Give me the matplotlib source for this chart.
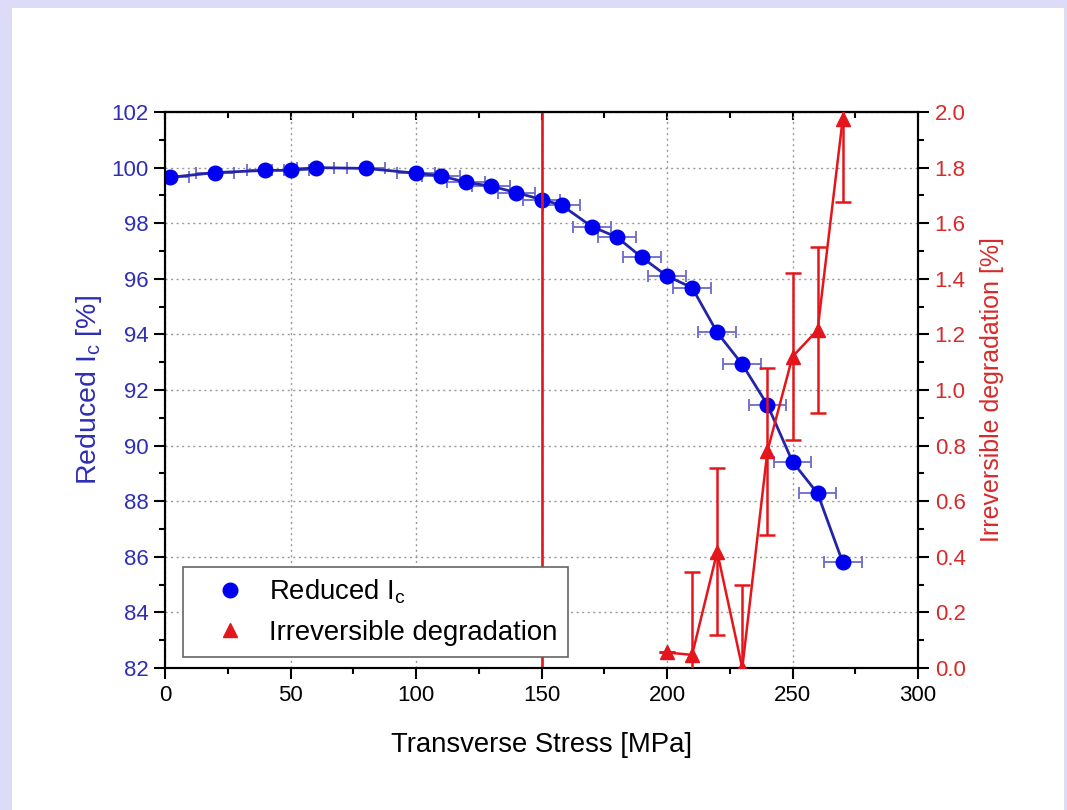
import matplotlib
matplotlib.use("Agg")
import matplotlib.pyplot as plt
from matplotlib.lines import Line2D
from matplotlib.patches import Rectangle
from matplotlib.ticker import MultipleLocator, FormatStrFormatter

plt.rcParams['font.family'] = ['Liberation Sans', 'DejaVu Sans']
plt.rcParams['mathtext.fontset'] = 'custom'
plt.rcParams['mathtext.rm'] = 'Liberation Sans'
plt.rcParams['mathtext.it'] = 'Liberation Sans'

# ---- data ----
stress_ic = [2, 20, 40, 50, 60, 80, 100, 110, 120, 130, 140, 150, 158, 170, 180,
             190, 200, 210, 220, 230, 240, 250, 260, 270]
reduced_ic = [99.65, 99.82, 99.9, 99.9, 100.0, 99.97, 99.8, 99.7, 99.47, 99.33,
              99.1, 98.85, 98.65, 97.88, 97.5, 96.77, 96.1, 95.68, 94.07, 92.92,
              91.47, 89.42, 88.28, 85.8]
stress_err = 7.5

stress_deg = [200, 210, 220, 230, 240, 250, 260, 270]
irrev_deg = [0.056, 0.047, 0.418, 0.0, 0.78, 1.12, 1.216, 1.975]
deg_err = [0.0, 0.3, 0.3, 0.3, 0.3, 0.3, 0.3, 0.3]

limit_stress = 150

x_ticks = [0, 50, 100, 150, 200, 250, 300]
left_ticks = [82, 84, 86, 88, 90, 92, 94, 96, 98, 100, 102]
right_ticks = [0.0, 0.2, 0.4, 0.6, 0.8, 1.0, 1.2, 1.4, 1.6, 1.8, 2.0]

BLUE = '#0000F0'
BLUE_LINE = '#2424A8'
BLUE_ERR = '#6A6ACC'
BLUE_TXT = '#2E2EB4'
RED = '#E4161C'
RED_TXT = '#D82A2A'

W, H = 1067, 810
fig = plt.figure(figsize=(W / 100, H / 100), dpi=100, facecolor='#DCDCF8')
fig.patches.append(Rectangle((12 / W, 0), (1064 - 12) / W, 1 - 8 / H,
                             transform=fig.transFigure, facecolor='white',
                             edgecolor='none', zorder=-10))

ax = fig.add_axes([165 / W, 1 - 668 / H, (918 - 165) / W, (668 - 112) / H])
ax.set_facecolor('white')

# blue series
ax.errorbar(stress_ic, reduced_ic, xerr=stress_err, fmt='none', ecolor=BLUE_ERR,
            elinewidth=1.3, capsize=4, capthick=1.3, zorder=3)
ax.plot(stress_ic, reduced_ic, '-', color=BLUE_LINE, lw=2.0, zorder=4)
ax.plot(stress_ic, reduced_ic, 'o', color=BLUE, ms=10.5, mec=BLUE, zorder=5)

ax.set_xlim(0, 300)
ax.set_ylim(82, 102)
ax.set_xticks(x_ticks)
ax.set_yticks(left_ticks)
ax.xaxis.set_minor_locator(MultipleLocator(25))
ax.yaxis.set_minor_locator(MultipleLocator(1))
ax.tick_params(axis='both', which='major', direction='out', length=8, width=1.5,
               labelsize=16, pad=4)
ax.tick_params(axis='both', which='minor', direction='out', length=4.5, width=1.5)
ax.tick_params(axis='y', colors='black', labelcolor=BLUE_TXT)
ax.tick_params(axis='x', labelcolor='black')
ax.grid(True, which='major', linestyle=(0, (1.5, 2.5)), color='#9A9A9A', lw=1.0)
for s in ax.spines.values():
    s.set_linewidth(1.5)

ax.set_xlabel('Transverse Stress [MPa]', fontsize=19.8, labelpad=19)
ax.set_ylabel('Reduced I$_\\mathregular{c}$ [%]', fontsize=20.5, color=BLUE_TXT,
              labelpad=5)

# top ticks pointing inward
top = ax.secondary_xaxis('top')
top.set_xticks(x_ticks)
top.xaxis.set_minor_locator(MultipleLocator(25))
top.tick_params(which='major', direction='in', length=6, width=1.5, labeltop=False)
top.tick_params(which='minor', direction='in', length=4.5, width=1.5)
top.spines['top'].set_linewidth(1.5)

# red series on right axis
ax2 = ax.twinx()
ax2.axvline(limit_stress, color=RED, lw=1.9, zorder=2)
ax2.errorbar(stress_deg, irrev_deg, yerr=deg_err, fmt='none', ecolor=RED,
             elinewidth=1.8, capsize=6, capthick=1.8, zorder=3)
ax2.plot(stress_deg, irrev_deg, '-', color=RED, lw=1.8, zorder=4)
ax2.plot(stress_deg, irrev_deg, '^', color=RED, ms=10, mec=RED, zorder=5)
ax2.set_ylim(0, 2.0)
ax2.set_yticks(right_ticks)
ax2.yaxis.set_major_formatter(FormatStrFormatter('%.1f'))
ax2.yaxis.set_minor_locator(MultipleLocator(0.1))
ax2.tick_params(axis='y', which='major', direction='out', length=8, width=1.5,
                labelsize=16, labelcolor=RED_TXT, pad=4)
ax2.tick_params(axis='y', which='minor', direction='out', length=4.5, width=1.5)
ax2.set_ylabel('Irreversible degradation [%]', fontsize=18, color=RED_TXT,
               labelpad=10)
for s in ax2.spines.values():
    s.set_linewidth(1.5)

handles = [
    Line2D([], [], marker='o', linestyle='none', color=BLUE, ms=10.5),
    Line2D([], [], marker='^', linestyle='none', color=RED, ms=10),
]
labels = ['Reduced I$_\\mathregular{c}$', 'Irreversible degradation']
leg = ax2.legend(handles, labels, loc='lower left', bbox_to_anchor=(0.024, 0.02),
                 borderaxespad=0, fontsize=19.8, frameon=True, fancybox=False,
                 edgecolor='#666666', framealpha=1.0, handletextpad=0.12,
                 borderpad=0.4, labelspacing=0.5, handlelength=2.6)
leg.get_frame().set_linewidth(1.2)
leg.set_zorder(10)

fig.savefig('out.png', dpi=100, facecolor=fig.get_facecolor())
